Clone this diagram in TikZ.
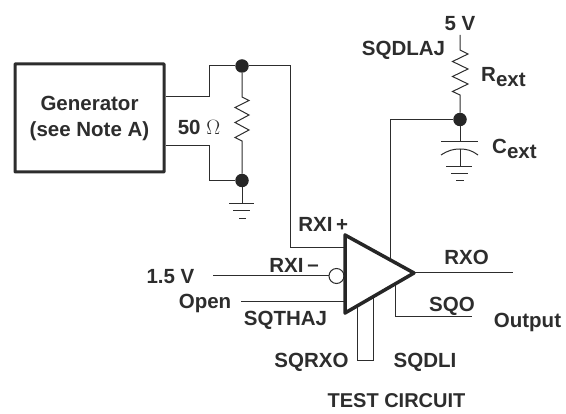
\documentclass[tikz,border=0pt]{standalone}
\usepackage{fontspec}
\setmainfont{Liberation Sans}
\definecolor{wirecol}{RGB}{45,45,45}
\tikzset{
  wire/.style={draw=wirecol, line width=1pt},
  lab/.style={font=\fontsize{20.5}{26.5}\selectfont\bfseries, text=wirecol, inner sep=0pt},
  dot/.style={circle, fill=black!85, inner sep=0pt, minimum size=13.5pt},
  gnd/.style={wire},
}
\begin{document}
\begin{tikzpicture}[x=1pt, y=-1pt]
    \useasboundingbox (0,0) rectangle (566,414);
    % generator and 50 ohm load
    \node[draw=wirecol, line width=3pt, rounded corners=0.5pt, minimum width=149pt, minimum height=108pt, inner sep=0pt] (gen) at (89.5,118) {};
    \node[lab, align=center] (gentxt) at (89.5,118.5) {Generator\\(see Note A)};
    \node[dot] (dtop) at (242,66) {};
    \node[dot] (dbot) at (242,180.5) {};
    \coordinate (genhi) at (165.5,96.5);
    \coordinate (genlo) at (165.5,145.5);
    \coordinate (kneehi) at (209,96.5);
    \coordinate (kneetop) at (209,66);
    \coordinate (kneelo) at (209,145.5);
    \coordinate (kneebot) at (209,180.5);
    \coordinate (rxitop) at (290,66);
    \coordinate (rxiin) at (290,247.5);
    \draw[wire] (genhi) -- (kneehi) -- (kneetop) -- (dtop) -- (rxitop) -- (rxiin);
    \draw[wire] (genlo) -- (kneelo) -- (kneebot) -- (dbot);
    \draw[wire] (dtop) -- (242,97) -- (249,100.5) -- (235,107.5) -- (249,115) -- (235,122.5) -- (249,130) -- (235,137.5) -- (242,141) -- (dbot);
    \node[lab] (ohm) at (199,127) {50 $\Omega$};
    % ground under the load
    \coordinate (gndl) at (242,204);
    \draw[wire] (dbot) -- (gndl);
    \draw[gnd] (229,204) -- (254,204);
    \draw[gnd] (233,211) -- (250,211);
    \draw[gnd] (239,219) -- (246,219);
    % supply, R and C
    \node[lab] (vcc) at (460,24) {5 V};
    \node[lab] (sqdlaj) at (403.5,50) {SQDLAJ};
    \node[dot] (dext) at (460,119.5) {};
    \coordinate (vcctop) at (460,35);
    \draw[wire] (vcctop) -- (460,50) -- (468,54) -- (452.5,61.5) -- (468,69) -- (452.5,76.5) -- (468,84) -- (452.5,91.5) -- (460,95) -- (dext);
    \node[lab, anchor=base west] (rext) at (481,82) {R\raisebox{-4.5pt}{ext}};
    \node[lab, anchor=base west] (cext) at (492,154) {C\raisebox{-4.5pt}{ext}};
    \coordinate (capa) at (460,142);
    \coordinate (capb) at (460,149);
    \coordinate (gndc) at (460,166.7);
    \draw[wire] (dext) -- (capa);
    \draw[wire] (441,142) -- (478,142);
    \draw[wire] (441,155) .. controls (448,150.5) and (453,149) .. (capb) .. controls (467,149) and (472,150.5) .. (478,155);
    \draw[wire] (capb) -- (gndc);
    \draw[gnd] (446,166.7) -- (472,166.7);
    \draw[gnd] (451,173.5) -- (468,173.5);
    \draw[gnd] (456,181) -- (464,181);
    % amplifier
    \coordinate (triA) at (345,235);
    \coordinate (triB) at (414,273);
    \coordinate (triC) at (345,313);
    \coordinate (kneeext) at (390,119.5);
    \coordinate (extin) at (390,259);
    \draw[wire] (dext) -- (kneeext) -- (extin);
    \draw[wire] (rxiin) -- (345,247.5);
    \node[circle, draw=wirecol, line width=1pt, fill=white, minimum size=15pt, inner sep=0pt] (bub) at (336.5,276) {};
    \coordinate (vin) at (213,276);
    \draw[wire] (vin) -- (bub);
    \coordinate (opena) at (241,301.5);
    \draw[wire] (opena) -- (345,301.5);
    \coordinate (rxqa) at (357,306);
    \coordinate (rxqb) at (357,361);
    \coordinate (rxqc) at (373,361);
    \coordinate (rxqd) at (373,297);
    \draw[wire] (rxqa) -- (rxqb) -- (rxqc) -- (rxqd);
    \coordinate (rxoend) at (513,273);
    \draw[wire] (triB) -- (rxoend);
    \coordinate (sqoa) at (395,284);
    \coordinate (sqob) at (395,317);
    \coordinate (sqoc) at (472,317);
    \draw[wire] (sqoa) -- (sqob) -- (sqoc);
    \draw[draw=black!85, line width=3.5pt, line join=round] (triA) -- (triB) -- (triC) -- cycle;
    % pin labels
    \node[lab] (rxip) at (315.5,224) {RXI};
    \node[lab] (plus) at (342,225) {+};
    \node[lab] (rxim) at (286.5,265) {RXI};
    \node[lab] (minus) at (313,268) {--};
    \node[lab] (vbias) at (170.5,277) {1.5 V};
    \node[lab] (open) at (205,303) {Open};
    \node[lab] (sqthaj) at (285.5,320) {SQTHAJ};
    \node[lab] (sqrxo) at (311.5,362) {SQRXO};
    \node[lab] (sqdli) at (425,362) {SQDLI};
    \node[lab] (rxo) at (466.5,257) {RXO};
    \node[lab] (sqo) at (452,306) {SQO};
    \node[lab] (output) at (527.5,322) {Output};
    \node[lab, font=\fontsize{20}{24}\selectfont\bfseries] (title) at (396.5,401) {TEST CIRCUIT};
  \end{tikzpicture}
\end{document}
